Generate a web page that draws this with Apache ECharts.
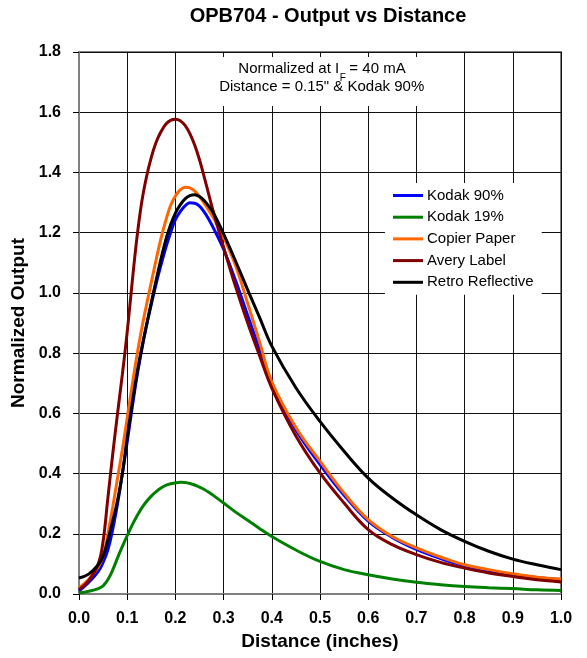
<!DOCTYPE html>
<html>
<head>
<meta charset="utf-8">
<script src="https://cdn.jsdelivr.net/npm/echarts@6/dist/echarts.min.js"></script>
<style>
html,body{margin:0;padding:0;background:#fff;}
#chart{width:587px;height:658px;}
</style>
</head>
<body>
<div id="chart"></div>
<script>
var distance = [0, 0.02, 0.04, 0.05, 0.06, 0.07, 0.08, 0.09, 0.10, 0.11, 0.12, 0.13, 0.14, 0.15, 0.16, 0.17, 0.18, 0.19, 0.20, 0.21, 0.22, 0.23, 0.24, 0.25, 0.26, 0.27, 0.28, 0.30, 0.325, 0.35, 0.375, 0.40, 0.45, 0.50, 0.55, 0.60, 0.65, 0.70, 0.75, 0.80, 0.85, 0.90, 0.95, 1.00];

var kodak90 = [0.010, 0.038, 0.075, 0.105, 0.147, 0.215, 0.300, 0.400, 0.505, 0.615, 0.720, 0.810, 0.890, 0.962, 1.030, 1.092, 1.150, 1.200, 1.243, 1.270, 1.289, 1.299, 1.298, 1.288, 1.268, 1.242, 1.212, 1.145, 1.040, 0.925, 0.810, 0.695, 0.545, 0.430, 0.328, 0.242, 0.188, 0.148, 0.118, 0.094, 0.078, 0.064, 0.055, 0.048];

var kodak19 = [0.003, 0.009, 0.018, 0.027, 0.048, 0.080, 0.120, 0.158, 0.194, 0.228, 0.258, 0.285, 0.307, 0.325, 0.340, 0.352, 0.361, 0.366, 0.369, 0.371, 0.370, 0.367, 0.362, 0.355, 0.347, 0.337, 0.326, 0.302, 0.272, 0.245, 0.217, 0.191, 0.146, 0.108, 0.081, 0.064, 0.050, 0.039, 0.031, 0.025, 0.021, 0.018, 0.014, 0.012];

var copierPaper = [0.020, 0.048, 0.090, 0.125, 0.200, 0.290, 0.385, 0.480, 0.585, 0.690, 0.790, 0.880, 0.960, 1.035, 1.110, 1.180, 1.240, 1.290, 1.322, 1.342, 1.351, 1.349, 1.338, 1.320, 1.297, 1.272, 1.246, 1.185, 1.090, 0.965, 0.835, 0.705, 0.553, 0.441, 0.335, 0.247, 0.191, 0.153, 0.123, 0.097, 0.081, 0.067, 0.056, 0.050];

var averyLabel = [0.014, 0.044, 0.100, 0.175, 0.320, 0.465, 0.600, 0.730, 0.870, 1.030, 1.180, 1.300, 1.385, 1.450, 1.500, 1.535, 1.560, 1.573, 1.577, 1.572, 1.556, 1.529, 1.491, 1.442, 1.384, 1.322, 1.262, 1.152, 1.020, 0.900, 0.790, 0.684, 0.525, 0.402, 0.302, 0.214, 0.164, 0.131, 0.105, 0.086, 0.070, 0.058, 0.047, 0.040];

var retroReflective = [0.053, 0.066, 0.097, 0.125, 0.180, 0.243, 0.311, 0.400, 0.520, 0.630, 0.730, 0.815, 0.893, 0.968, 1.042, 1.112, 1.176, 1.226, 1.265, 1.292, 1.312, 1.323, 1.326, 1.320, 1.306, 1.286, 1.262, 1.196, 1.105, 1.010, 0.917, 0.823, 0.685, 0.573, 0.474, 0.385, 0.319, 0.263, 0.214, 0.175, 0.142, 0.116, 0.097, 0.081];

var seriesNames = ['Kodak 90%', 'Kodak 19%', 'Copier Paper', 'Avery Label', 'Retro Reflective'];
var seriesValues = [kodak90, kodak19, copierPaper, averyLabel, retroReflective];
var seriesColors = ['#0000FF', '#008000', '#FF6600', '#800000', '#000000'];

var FONT = 'Arial, "Liberation Sans", sans-serif';

function pairs(vals) {
  return distance.map(function (d, i) { return [d, vals[i]]; });
}

var chart = echarts.init(document.getElementById('chart'), null, {renderer: 'canvas'});

var series = seriesNames.map(function (name, i) {
  return {
    name: name,
    type: 'line',
    data: pairs(seriesValues[i]),
    smooth: 0.4,
    symbol: 'none',
    lineStyle: {color: seriesColors[i], width: 3},
    itemStyle: {color: seriesColors[i]},
    z: 3 + i
  };
});

var option = {
  animation: false,
  backgroundColor: '#fff',
  grid: {
    left: 79, right: 26, top: 52, bottom: 64,
    show: true, borderColor: '#808080', borderWidth: 2, containLabel: false
  },
  legend: {
    orient: 'vertical',
    left: 385, top: 183,
    padding: [4, 8, 4, 8],
    backgroundColor: '#fff',
    itemWidth: 30, itemHeight: 3,
    itemGap: 4.7,
    icon: 'rect',
    data: seriesNames,
    textStyle: {fontFamily: FONT, fontSize: 15, color: '#000', lineHeight: 17, padding: [0, 0, 0, -1]},
    z: 20
  },
  xAxis: {
    type: 'value', min: 0, max: 1, interval: 0.1,
    name: 'Distance (inches)', nameLocation: 'middle', nameGap: 32,
    nameTextStyle: {fontFamily: FONT, fontSize: 19, fontWeight: 'bold', color: '#000'},
    axisLine: {show: true, onZero: false, lineStyle: {color: '#808080', width: 2}},
    axisTick: {show: true, inside: false, length: 6, lineStyle: {color: '#000', width: 1}},
    axisLabel: {fontFamily: FONT, fontSize: 16, fontWeight: 'bold', color: '#000', margin: 17,
      formatter: function (v) { return v.toFixed(1); }},
    splitLine: {show: true, lineStyle: {color: '#111', width: 1}}
  },
  yAxis: {
    type: 'value', min: 0, max: 1.8, interval: 0.2,
    name: 'Normalized Output', nameLocation: 'middle', nameGap: 44, nameRotate: 90,
    nameTextStyle: {fontFamily: FONT, fontSize: 19, fontWeight: 'bold', color: '#000'},
    axisLine: {show: true, onZero: false, lineStyle: {color: '#808080', width: 2}},
    axisTick: {show: true, inside: false, length: 6, lineStyle: {color: '#000', width: 1}},
    axisLabel: {fontFamily: FONT, fontSize: 16, fontWeight: 'bold', color: '#000', margin: 18,
      formatter: function (v) { return v.toFixed(1); }},
    splitLine: {show: true, lineStyle: {color: '#111', width: 1}}
  },
  graphic: [
    {type: 'text', x: 328, y: 16.7, z: 30,
      style: {text: 'OPB704 - Output vs Distance', fontFamily: FONT, fontSize: 20, fontWeight: 'bold',
        fill: '#000', align: 'center', verticalAlign: 'middle'}},
    {type: 'rect', shape: {x: 208, y: 57, width: 226, height: 49}, z: 25,
      style: {fill: '#fff', stroke: null}},
    {type: 'text', x: 339.2, y: 68.6, z: 30,
      style: {text: 'Normalized at I', fontFamily: FONT, fontSize: 15, fill: '#000', align: 'right', verticalAlign: 'middle'}},
    {type: 'text', x: 339.8, y: 78.6, z: 30,
      style: {text: 'F', fontFamily: FONT, fontSize: 10, fill: '#000', align: 'left', verticalAlign: 'middle'}},
    {type: 'text', x: 345.2, y: 68.6, z: 30,
      style: {text: ' = 40 mA', fontFamily: FONT, fontSize: 15, fill: '#000', align: 'left', verticalAlign: 'middle'}},
    {type: 'text', x: 321.7, y: 87.3, z: 30,
      style: {text: 'Distance = 0.15" & Kodak 90%', fontFamily: FONT, fontSize: 15, fill: '#000', align: 'center', verticalAlign: 'middle'}}
  ],
  series: series
};

chart.setOption(option);
</script>
</body>
</html>
